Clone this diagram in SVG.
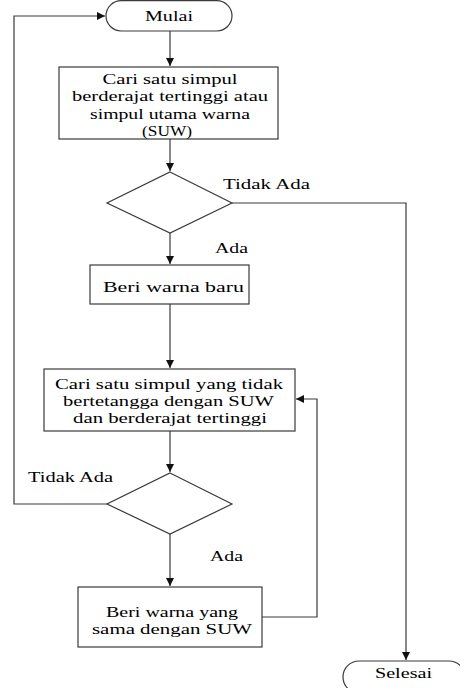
<svg xmlns="http://www.w3.org/2000/svg" width="460" height="688" viewBox="0 0 460 688">
<style>
.shape{fill:#fff;stroke:#3a3a3a;stroke-width:1.2}
.conn{fill:none;stroke:#3a3a3a;stroke-width:1.2}
text{font-family:"Liberation Serif","Times New Roman",serif;font-size:15px;fill:#000}
.c{text-anchor:middle}
</style>
<defs>
<marker id="arr" markerUnits="userSpaceOnUse" markerWidth="9" markerHeight="8" refX="8" refY="4" orient="auto">
<path d="M0,0 L8,4 L0,8 z" fill="#111"/>
</marker>
</defs>
<rect width="460" height="688" fill="#fff"/>
<g id="connectors">
<path class="conn" d="M170,31 V66" marker-end="url(#arr)"/>
<path class="conn" d="M170,139 V171" marker-end="url(#arr)"/>
<path class="conn" d="M170,233 V264" marker-end="url(#arr)"/>
<path class="conn" d="M232,203 H406 V660" marker-end="url(#arr)"/>
<path class="conn" d="M170,304 V368" marker-end="url(#arr)"/>
<path class="conn" d="M170,431 V472" marker-end="url(#arr)"/>
<path class="conn" d="M107,504 H14 V16 H105" marker-end="url(#arr)"/>
<path class="conn" d="M170,534 V586" marker-end="url(#arr)"/>
<path class="conn" d="M262,617 H317 V399 H296" marker-end="url(#arr)"/>
</g>
<g id="mulai">
<rect class="shape" x="106" y="0.6" width="126" height="30.4" rx="15.2"/>
<text class="c" x="169" y="21" textLength="48" lengthAdjust="spacingAndGlyphs">Mulai</text>
</g>
<g id="box1">
<rect class="shape" x="59" y="67" width="219" height="72"/>
<text class="c" x="170" y="84" textLength="135" lengthAdjust="spacingAndGlyphs">Cari satu simpul</text>
<text class="c" x="170" y="101.3" textLength="196" lengthAdjust="spacingAndGlyphs">berderajat tertinggi atau</text>
<text class="c" x="170" y="118.6" textLength="160" lengthAdjust="spacingAndGlyphs">simpul utama warna</text>
<text class="c" x="167" y="135.9" textLength="50" lengthAdjust="spacingAndGlyphs">(SUW)</text>
</g>
<g id="decision1">
<polygon class="shape" points="170,172 232,203 170,233 107,203"/>
</g>
<g id="label-tidak-ada-1"><text x="223" y="189" textLength="87" lengthAdjust="spacingAndGlyphs">Tidak Ada</text></g>
<g id="label-ada-1"><text x="215" y="253" textLength="33" lengthAdjust="spacingAndGlyphs">Ada</text></g>
<g id="box2">
<rect class="shape" x="90" y="265" width="159" height="39"/>
<text class="c" x="173.5" y="292" textLength="141" lengthAdjust="spacingAndGlyphs">Beri warna baru</text>
</g>
<g id="box3">
<rect class="shape" x="44" y="369" width="251" height="62"/>
<text class="c" x="169" y="388.5" textLength="228" lengthAdjust="spacingAndGlyphs">Cari satu simpul yang tidak</text>
<text class="c" x="168.5" y="405.5" textLength="211" lengthAdjust="spacingAndGlyphs">bertetangga dengan SUW</text>
<text class="c" x="170" y="422.5" textLength="194" lengthAdjust="spacingAndGlyphs">dan berderajat tertinggi</text>
</g>
<g id="decision2">
<polygon class="shape" points="170,473 232,504 170,534 107,504"/>
</g>
<g id="label-tidak-ada-2"><text x="28" y="482" textLength="85" lengthAdjust="spacingAndGlyphs">Tidak Ada</text></g>
<g id="label-ada-2"><text x="210" y="561" textLength="33" lengthAdjust="spacingAndGlyphs">Ada</text></g>
<g id="box4">
<rect class="shape" x="78" y="587" width="184" height="60"/>
<text class="c" x="172" y="617" textLength="132" lengthAdjust="spacingAndGlyphs">Beri warna yang</text>
<text class="c" x="172" y="634" textLength="160" lengthAdjust="spacingAndGlyphs">sama dengan SUW</text>
</g>
<g id="selesai">
<rect class="shape" x="343" y="661" width="122" height="32" rx="16"/>
<text class="c" x="403.5" y="678" textLength="57" lengthAdjust="spacingAndGlyphs">Selesai</text>
</g>
</svg>
